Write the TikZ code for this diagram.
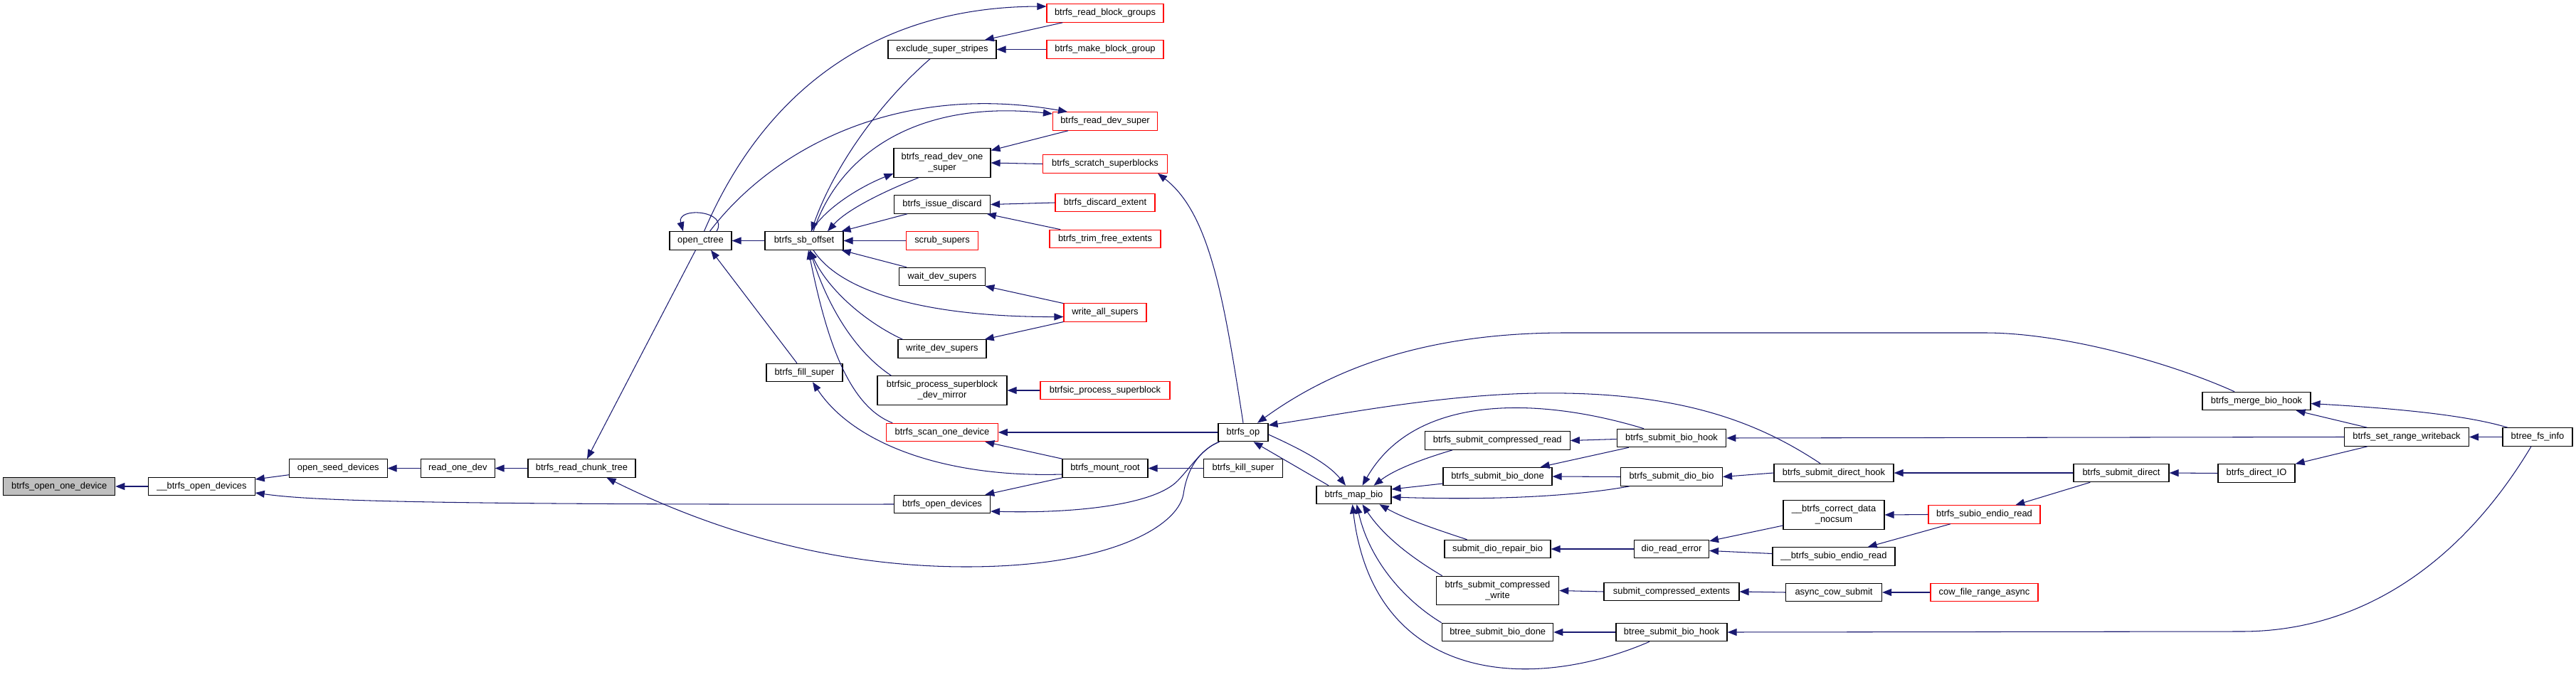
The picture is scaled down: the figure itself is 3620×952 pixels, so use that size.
\documentclass[tikz,border=0pt]{standalone}
\usepackage{fontspec}
\setmainfont{Liberation Sans}
\usetikzlibrary{arrows.meta}
\definecolor{edgeblue}{HTML}{191970}
\definecolor{rootgray}{HTML}{BFBFBF}
\begin{document}
\begin{tikzpicture}[x=1pt,y=-1pt,
  fn/.style={draw=black,line width=1.1pt,rectangle,inner sep=0pt,minimum height=25.5pt,font=\fontsize{12.9}{15}\selectfont,align=center,anchor=center},
  fn2/.style={fn,minimum height=40.5pt},
  redfn/.style={fn,draw=red},
  rootfn/.style={fn,fill=rootgray},
  edg/.style={draw=edgeblue,line width=1.05pt,-{Triangle[length=13pt,width=10pt]}}]
\useasboundingbox (0,0) rectangle (3620,952);
\node[rootfn,minimum width=157] (n0) at (83.2,684) {btrfs\_open\_one\_device};
\node[fn,minimum width=149.4] (n1) at (283.5,684) {\_\_btrfs\_open\_devices};
\node[fn,minimum width=137.5] (n2) at (475.3,658.5) {open\_seed\_devices};
\node[fn,minimum width=103.5] (n3) at (643.3,658.5) {read\_one\_dev};
\node[fn,minimum width=151] (n4) at (817.5,658.5) {btrfs\_read\_chunk\_tree};
\node[fn,minimum width=87] (n5) at (984.5,338.5) {open\_ctree};
\node[fn,minimum width=110] (n6) at (1130,338.5) {btrfs\_sb\_offset};
\node[fn,minimum width=107] (n7) at (1130.5,524) {btrfs\_fill\_super};
\node[fn,minimum width=152] (n8) at (1324,69.5) {exclude\_super\_stripes};
\node[fn2,minimum width=136] (n9) at (1324,229) {btrfs\_read\_dev\_one\\\_super};
\node[fn,minimum width=135] (n10) at (1324,287.5) {btrfs\_issue\_discard};
\node[redfn,minimum width=100.5] (n11) at (1324,338.5) {scrub\_supers};
\node[fn,minimum width=121] (n12) at (1324,389) {wait\_dev\_supers};
\node[fn,minimum width=124] (n13) at (1324,490.5) {write\_dev\_supers};
\node[fn2,minimum width=182] (n14) at (1324,549) {btrfsic\_process\_superblock\\\_dev\_mirror};
\node[redfn,minimum width=156.5] (n15) at (1324,608) {btrfs\_scan\_one\_device};
\node[fn,minimum width=135] (n16) at (1324,709) {btrfs\_open\_devices};
\node[redfn,minimum width=164] (n17) at (1553,18.5) {btrfs\_read\_block\_groups};
\node[redfn,minimum width=164] (n18) at (1553,69.5) {btrfs\_make\_block\_group};
\node[redfn,minimum width=147] (n19) at (1553,170.5) {btrfs\_read\_dev\_super};
\node[redfn,minimum width=175] (n20) at (1553,230.5) {btrfs\_scratch\_superblocks};
\node[redfn,minimum width=140] (n21) at (1553,285) {btrfs\_discard\_extent};
\node[redfn,minimum width=156] (n22) at (1553,336) {btrfs\_trim\_free\_extents};
\node[redfn,minimum width=116] (n23) at (1553,439.5) {write\_all\_supers};
\node[redfn,minimum width=182] (n24) at (1553,549) {btrfsic\_process\_superblock};
\node[fn,minimum width=120] (n25) at (1553,658.5) {btrfs\_mount\_root};
\node[fn,minimum width=70] (n26) at (1747,608) {btrfs\_op};
\node[fn,minimum width=111] (n27) at (1747,658.5) {btrfs\_kill\_super};
\node[fn,minimum width=105] (n28) at (1902.5,696) {btrfs\_map\_bio};
\node[fn,minimum width=204] (n29) at (2104.3,619.5) {btrfs\_submit\_compressed\_read};
\node[fn,minimum width=153] (n30) at (2104.5,670) {btrfs\_submit\_bio\_done};
\node[fn,minimum width=149] (n31) at (2104.5,772) {submit\_dio\_repair\_bio};
\node[fn2,minimum width=172.5] (n32) at (2104.5,830.5) {btrfs\_submit\_compressed\\\_write};
\node[fn,minimum width=156] (n33) at (2104.7,889) {btree\_submit\_bio\_done};
\node[fn,minimum width=153.5] (n34) at (2349,616) {btrfs\_submit\_bio\_hook};
\node[fn,minimum width=143] (n35) at (2349,670.5) {btrfs\_submit\_dio\_bio};
\node[fn,minimum width=105] (n36) at (2349,772) {dio\_read\_error};
\node[fn,minimum width=190] (n37) at (2349,832) {submit\_compressed\_extents};
\node[fn,minimum width=156] (n38) at (2349,889) {btree\_submit\_bio\_hook};
\node[fn,minimum width=168] (n39) at (2577,665) {btrfs\_submit\_direct\_hook};
\node[fn2,minimum width=142] (n40) at (2577,724) {\_\_btrfs\_correct\_data\\\_nocsum};
\node[fn,minimum width=172] (n41) at (2577,782.5) {\_\_btrfs\_subio\_endio\_read};
\node[fn,minimum width=135] (n42) at (2577,833) {async\_cow\_submit};
\node[redfn,minimum width=157] (n43) at (2788.5,723.5) {btrfs\_subio\_endio\_read};
\node[redfn,minimum width=151] (n44) at (2788.5,833) {cow\_file\_range\_async};
\node[fn,minimum width=134] (n45) at (2981,665) {btrfs\_submit\_direct};
\node[fn,minimum width=152] (n46) at (3171,564) {btrfs\_merge\_bio\_hook};
\node[fn,minimum width=108] (n47) at (3171,665.5) {btrfs\_direct\_IO};
\node[fn,minimum width=175] (n48) at (3382,614.5) {btrfs\_set\_range\_writeback};
\node[fn,minimum width=98] (n49) at (3566,614.5) {btree\_fs\_info};
% edges
\draw[edg] (n1.west) -- (n0.east);
\draw[edg] (n2) -- (n1);
\draw[edg] (n16.west) .. controls (560,710) and (430,703) .. ([yshift=-9]n1.east);
\draw[edg] (n3.west) -- (n2.east);
\draw[edg] (n4.west) -- (n3.east);
\draw[edg] ([xshift=-7]n5.south) -- ([xshift=7.5]n4.north);
\draw[edg] ([xshift=2]n26.south west) .. controls (1685,633) and (1668,660) .. (1663,695) .. controls (1655,740) and (1560,797) .. (1358,797) .. controls (1150,797) and (980,735) .. ([xshift=35]n4.south);
\draw[edg] ([xshift=2]n26.south west) .. controls (1690,630) and (1675,655) .. (1655,676) .. controls (1620,712) and (1500,722) .. ([yshift=-10]n16.east);
\draw[edg] (n25) -- (n16);
\draw[edg] (n25) -- (n15);
\draw[edg] (n26.west) -- (n15.east);
\draw[edg] (n27.west) -- (n25.east);
\draw[edg] ([yshift=-8.5]n25.west) .. controls (1330,672) and (1200,625) .. ([xshift=11.5]n7.south);
\draw[edg] ([xshift=-10.5]n7.north) -- ([xshift=14.5]n5.south);
\draw[edg] (n6.west) -- (n5.east);
\draw[edg] ([xshift=22.5]n5.north) .. controls (1025,296) and (950,290) .. ([xshift=-24.5]n5.north);
\draw[edg] ([xshift=5]n5.north) .. controls (1060,160) and (1200,10) .. ([yshift=9.5]n17.west);
\draw[edg] ([xshift=13]n5.north) .. controls (1085,210) and (1260,115) .. ([xshift=-53]n19.north);
\draw[edg] ([xshift=-17]n8.south) .. controls (1230,150) and (1170,240) .. ([xshift=10]n6.north);
\draw[edg] ([xshift=13]n6.north) .. controls (1180,215) and (1290,140) .. ([yshift=10.5]n19.west);
\draw[edg] ([xshift=10]n6.north) .. controls (1160,292) and (1210,262) .. ([yshift=-15]n9.west);
\draw[edg] ([xshift=-33]n9.south) .. controls (1240,270) and (1190,295) .. ([xshift=33]n6.north);
\draw[edg] ([xshift=-49]n10.south) -- ([xshift=-3]n6.north east);
\draw[edg] (n11.west) -- (n6.east);
\draw[edg] ([xshift=11]n12.north west) -- ([xshift=-3]n6.south east);
\draw[edg] ([xshift=13]n6.south) .. controls (1180,410) and (1300,446) .. ([yshift=-6]n23.west);
\draw[edg] ([xshift=7]n13.north west) .. controls (1220,455) and (1165,410) .. ([xshift=8]n6.south);
\draw[edg] ([xshift=20]n14.north west) .. controls (1195,490) and (1160,420) .. ([xshift=8]n6.south);
\draw[edg] ([xshift=9]n15.north west) .. controls (1190,570) and (1160,470) .. ([xshift=6]n6.south);
\draw[edg] (n18.west) -- (n8.east);
\draw[edg] (n17) -- (n8);
\draw[edg] (n19) -- (n9);
\draw[edg] (n20.west) -- (n9.east);
\draw[edg] (n21.west) -- (n10.east);
\draw[edg] (n22) -- (n10);
\draw[edg] (n23) -- (n12);
\draw[edg] (n23) -- (n13);
\draw[edg] (n24.west) -- (n14.east);
\draw[edg] (n26.north) .. controls (1720,420) and (1700,300) .. ([xshift=74]n20.south);
\draw[edg] ([xshift=-31]n46.north) .. controls (3050,510) and (2900,468) .. (2789,468) -- (2200,468) .. controls (2000,468) and (1870,520) .. ([xshift=20]n26.north);
\draw[edg] ([xshift=-19]n39.north) .. controls (2480,600) and (2380,556) .. (2200,553) .. controls (2050,550) and (1900,580) .. ([yshift=10]n26.east);
\draw[edg] ([yshift=-3]n26.east) .. controls (1820,628) and (1865,650) .. ([xshift=-11.5]n28.north);
\draw[edg] ([xshift=-35.5]n28.north) -- ([xshift=14.5]n26.south);
\draw[edg] ([xshift=-39]n34.north) .. controls (2170,560) and (1990,550) .. ([xshift=12]n28.north);
\draw[edg] ([xshift=-63]n29.south) .. controls (2000,645) and (1960,660) .. ([xshift=28]n28.north);
\draw[edg] ([yshift=-10]n30.west) -- ([yshift=8]n28.east);
\draw[edg] ([xshift=-59]n35.south) .. controls (2200,700) and (2080,703) .. ([yshift=-3]n28.east);
\draw[edg] ([xshift=-43]n31.north) .. controls (2020,745) and (1975,730) .. ([xshift=36]n28.south);
\draw[edg] ([xshift=9]n32.north west) .. controls (1985,785) and (1945,755) .. ([xshift=12]n28.south);
\draw[edg] ([xshift=-79]n33.north) .. controls (1975,845) and (1925,790) .. ([xshift=4]n28.south);
\draw[edg] ([xshift=-31]n38.south) .. controls (2150,975) and (1930,960) .. ([xshift=-2]n28.south);
\draw[edg] ([yshift=-1.5]n34.west) -- (n29.east);
\draw[edg] (n34) -- (n30);
\draw[edg] (n35.west) -- (n30.east);
\draw[edg] (n36.west) -- (n31.east);
\draw[edg] (n37.west) -- (n32.east);
\draw[edg] (n38.west) -- (n33.east);
\draw[edg] (n48.west) -- (n34.east);
\draw[edg] (n39.west) -- (n35.east);
\draw[edg] (n45.west) -- (n39.east);
\draw[edg] (n47.west) -- (n45.east);
\draw[edg] (n48) -- (n47);
\draw[edg] (n48) -- (n46);
\draw[edg] ([xshift=-42]n49.north) .. controls (3470,585) and (3380,575) .. ([yshift=-3.5]n46.east);
\draw[edg] (n49.west) -- (n48.east);
\draw[edg] ([xshift=-9]n49.south) .. controls (3460,790) and (3320,888) .. (3150,888) -- (n38.east);
\draw[edg] (n43.west) -- (n40.east);
\draw[edg] (n43) -- (n41);
\draw[edg] (n45) -- (n43);
\draw[edg] (n40) -- (n36);
\draw[edg] (n41) -- (n36);
\draw[edg] (n42.west) -- (n37.east);
\draw[edg] (n44.west) -- (n42.east);
\end{tikzpicture}
\end{document}
